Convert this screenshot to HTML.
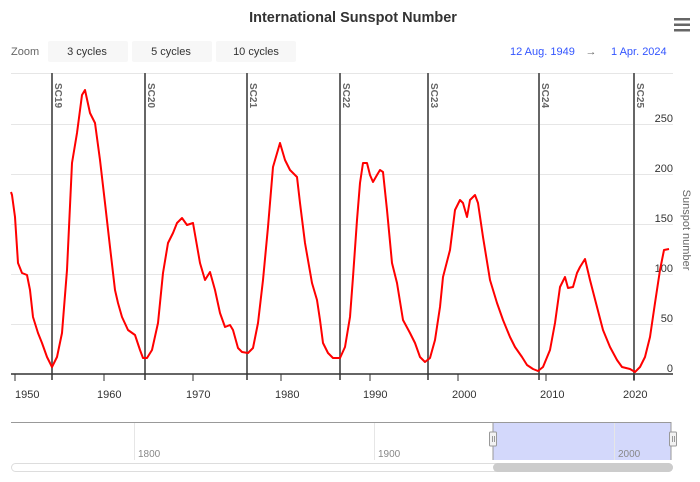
<!DOCTYPE html>
<html><head><meta charset="utf-8"><style>
html,body{margin:0;padding:0;background:#fff;}
svg{display:block;font-family:"Liberation Sans",Arial,sans-serif;}
</style></head><body>
<svg width="700" height="482" viewBox="0 0 700 482" xmlns="http://www.w3.org/2000/svg">
<rect width="700" height="482" fill="#fff"/>
<text x="353" y="22" text-anchor="middle" font-size="14.5" font-weight="bold" fill="#333">International Sunspot Number</text>
<g fill="#666"><rect x="674" y="18" width="16" height="2.5"/><rect x="674" y="23.5" width="16" height="2.5"/><rect x="674" y="29" width="16" height="2.5"/></g>
<text x="11" y="55" font-size="11" fill="#666">Zoom</text>
<rect x="48" y="41" width="80" height="21" fill="#f7f7f7" rx="2"/>
<rect x="132" y="41" width="80" height="21" fill="#f7f7f7" rx="2"/>
<rect x="216" y="41" width="80" height="21" fill="#f7f7f7" rx="2"/>
<g font-size="11" fill="#333" text-anchor="middle"><text x="87" y="55">3 cycles</text><text x="171" y="55">5 cycles</text><text x="256" y="55">10 cycles</text></g>
<g font-size="11" fill="#3355ff"><text x="510" y="55">12 Aug. 1949</text><text x="611" y="55">1 Apr. 2024</text></g>
<text x="591" y="55" font-size="11" fill="#666" text-anchor="middle">→</text>
<g stroke="#e6e6e6" stroke-width="1">
<line x1="11" y1="73.5" x2="673" y2="73.5"/><line x1="11" y1="124.5" x2="673" y2="124.5"/><line x1="11" y1="174.5" x2="673" y2="174.5"/><line x1="11" y1="224.5" x2="673" y2="224.5"/><line x1="11" y1="274.5" x2="673" y2="274.5"/><line x1="11" y1="324.5" x2="673" y2="324.5"/>
</g>
<g font-size="11" fill="#333" text-anchor="end">
<text x="673" y="122">250</text><text x="673" y="172">200</text><text x="673" y="222">150</text><text x="673" y="272">100</text><text x="673" y="322">50</text><text x="673" y="372">0</text>
</g>
<text transform="translate(683,230) rotate(90)" text-anchor="middle" font-size="11" fill="#666">Sunspot number</text>
<g stroke="#666" stroke-width="2">
<line x1="52" y1="73" x2="52" y2="380"/><line x1="145" y1="73" x2="145" y2="380"/><line x1="247" y1="73" x2="247" y2="380"/><line x1="340" y1="73" x2="340" y2="380"/><line x1="428" y1="73" x2="428" y2="380"/><line x1="539" y1="73" x2="539" y2="380"/><line x1="634" y1="73" x2="634" y2="380"/>
</g>
<g font-size="10" font-weight="bold" fill="#666">
<text transform="translate(55,83) rotate(90)">SC19</text><text transform="translate(148,83) rotate(90)">SC20</text><text transform="translate(250,83) rotate(90)">SC21</text><text transform="translate(343,83) rotate(90)">SC22</text><text transform="translate(431,83) rotate(90)">SC23</text><text transform="translate(542,83) rotate(90)">SC24</text><text transform="translate(637,83) rotate(90)">SC25</text>
</g>
<line x1="11" y1="374" x2="673" y2="374" stroke="#333" stroke-width="1.5"/>
<g stroke="#333" stroke-width="1">
<line x1="15" y1="374" x2="15" y2="381"/><line x1="104" y1="374" x2="104" y2="381"/><line x1="193" y1="374" x2="193" y2="381"/><line x1="281" y1="374" x2="281" y2="381"/><line x1="370" y1="374" x2="370" y2="381"/><line x1="458" y1="374" x2="458" y2="381"/><line x1="546" y1="374" x2="546" y2="381"/><line x1="634" y1="374" x2="634" y2="381"/>
</g>
<g font-size="11" fill="#333">
<text x="15" y="398">1950</text><text x="97" y="398">1960</text><text x="186" y="398">1970</text><text x="275" y="398">1980</text><text x="363" y="398">1990</text><text x="452" y="398">2000</text><text x="540" y="398">2010</text><text x="623" y="398">2020</text>
</g>
<polyline fill="none" stroke="#ff0000" stroke-width="2" stroke-linejoin="round" points="11,192 12,195 15,217 18,263 22,273 27,275 30,290 33,317 38,333 42,343 47,357 52,367 57,357 62,333 67,270 72,163 77,133 82,95 85,90 90,113 95,123 100,160 105,203 110,247 115,290 118,303 122,317 128,330 135,335 140,350 143,358 147,358 152,350 158,323 163,273 168,243 173,233 177,223 182,218 187,225 193,223 200,263 205,280 210,272 215,290 220,313 225,327 230,325 233,330 238,348 242,352 248,353 253,348 258,323 263,280 268,227 273,167 280,143 285,160 290,170 297,177 300,203 305,243 312,283 317,300 320,320 323,343 328,353 333,358 338,358 340,358 345,347 350,317 353,277 357,220 360,183 363,163 367,163 370,175 373,182 377,175 380,170 383,172 387,210 392,263 397,283 403,320 410,333 415,343 420,357 425,362 430,358 435,340 440,307 443,277 450,250 455,210 460,200 463,203 467,217 470,200 475,195 478,203 483,237 490,280 497,303 503,320 510,337 515,347 522,357 527,365 533,369 538,371 543,367 550,350 555,323 560,287 565,277 568,288 573,287 577,273 580,267 585,259 590,280 597,307 603,330 610,347 617,360 622,367 630,369 635,372 640,367 645,357 650,337 655,303 660,270 664,250 669,249"/>
<rect x="493" y="422" width="178" height="38" fill="#d3d8fb"/>
<g stroke="#e6e6e6"><line x1="134.5" y1="422" x2="134.5" y2="460"/><line x1="374.5" y1="422" x2="374.5" y2="460"/><line x1="614.5" y1="422" x2="614.5" y2="460"/></g>
<g font-size="10" fill="#888"><text x="138" y="457">1800</text><text x="378" y="457">1900</text><text x="618" y="457">2000</text></g>
<polyline fill="none" stroke="#999" stroke-width="1" points="11,422.5 493,422.5 493,460 493,422.5 671,422.5 671,460"/>
<rect x="489.5" y="432" width="7" height="14" fill="#f2f2f2" stroke="#999" rx="1"/>
<rect x="669.5" y="432" width="7" height="14" fill="#f2f2f2" stroke="#999" rx="1"/>
<g stroke="#999"><line x1="492.5" y1="436" x2="492.5" y2="442"/><line x1="494.5" y1="436" x2="494.5" y2="442"/><line x1="672.5" y1="436" x2="672.5" y2="442"/><line x1="674.5" y1="436" x2="674.5" y2="442"/></g>
<rect x="11.5" y="463.5" width="661" height="8" rx="4" fill="#fff" stroke="#ddd"/>
<rect x="493" y="463" width="180" height="9" rx="4.5" fill="#cccccc"/>
</svg>
</body></html>
